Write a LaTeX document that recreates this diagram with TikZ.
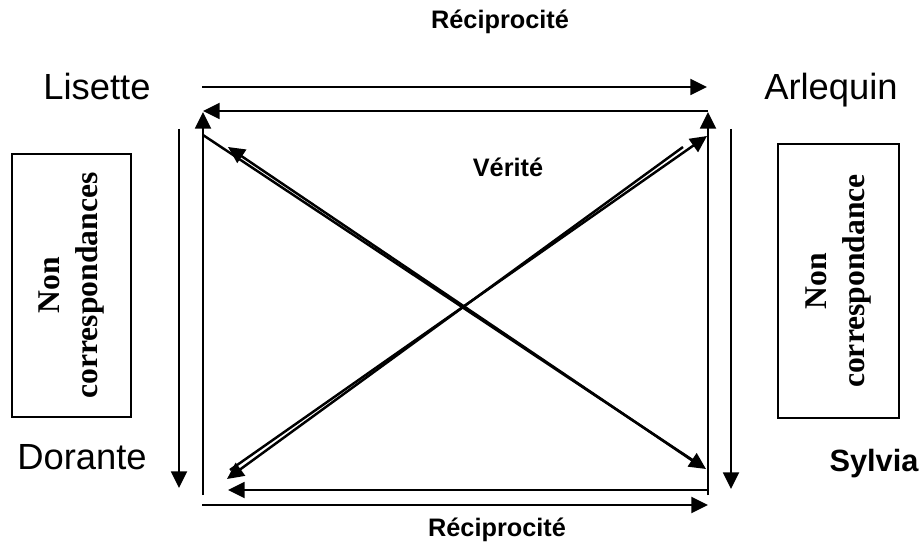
\documentclass[tikz,border=0pt]{standalone}
\usepackage{fontspec}
\setmainfont{Liberation Serif}
\setsansfont{Liberation Sans}
\usetikzlibrary{arrows.meta}

\begin{document}
\begin{tikzpicture}[x=0.02cm, y=-0.02cm,
    fleche/.style={line width=1.4pt, -{Triangle[length=9.5pt, width=9pt]}},
    nom/.style={anchor=base, font=\sffamily\fontsize{20.7}{24}\selectfont},
    titre/.style={anchor=base, font=\sffamily\bfseries\fontsize{14.4}{17}\selectfont},
    cadre/.style={draw, line width=0.9pt, rotate=90, align=center,
      font=\rmfamily\bfseries\fontsize{18}{22}\selectfont}]
  \useasboundingbox (0,0) rectangle (923,557);

  % Characters
  \node[nom] (lisette) at (97,100) {Lisette};
  \node[nom] (arlequin) at (831,100) {Arlequin};
  \node[nom] (dorante) at (82,469) {Dorante};
  \node[titre, font=\sffamily\bfseries\fontsize{17.5}{20}\selectfont] (sylvia) at (874,471) {Sylvia};

  % Relations
  \node[titre] (recipHaut) at (500,29) {Réciprocité};
  \node[titre] (recipBas) at (497,536) {Réciprocité};
  \node[titre] (verite) at (508,177) {Vérité};

  % Side boxes
  \node[cadre, minimum width=5.26cm, minimum height=2.38cm] (nonGauche) at (71.5,285.5) {Non\\correspondances};
  \node[cadre, minimum width=5.48cm, minimum height=2.42cm] (nonDroite) at (838.5,281) {Non\\correspondance};

  % Arrow end points
  \foreach \n/\x/\y in {hautA/202/87, hautB/707/87, hautC/708/111, hautD/203/111,
      gauA/203/495, gauB/203/112, droA/708/495, droB/708/112,
      extGA/179/129, extGB/179/488, extDA/731/129, extDB/731/489,
      basC/708/490, basD/228/490, basA/202/505, basB/708/505,
      diagA/203/135, diagB/706/469, diagC/693/461, diagD/228/147,
      diagE/230/470, diagF/707/136, diagG/683/147, diagH/227/479} {
    \coordinate (\n) at (\x,\y);
  }

  % Square
  \draw[fleche] (hautA) -- (hautB);
  \draw[fleche] (hautC) -- (hautD);
  \draw[fleche] (gauA) -- (gauB);
  \draw[fleche] (droA) -- (droB);
  \draw[fleche] (basC) -- (basD);
  \draw[fleche, line width=1.7pt] (basA) -- (basB);

  % Outer arrows
  \draw[fleche] (extGA) -- (extGB);
  \draw[fleche] (extDA) -- (extDB);

  % Diagonals
  \draw[fleche] (diagA) -- (diagB);
  \draw[fleche] (diagC) -- (diagD);
  \draw[fleche] (diagE) -- (diagF);
  \draw[fleche] (diagG) -- (diagH);
\end{tikzpicture}
\end{document}
